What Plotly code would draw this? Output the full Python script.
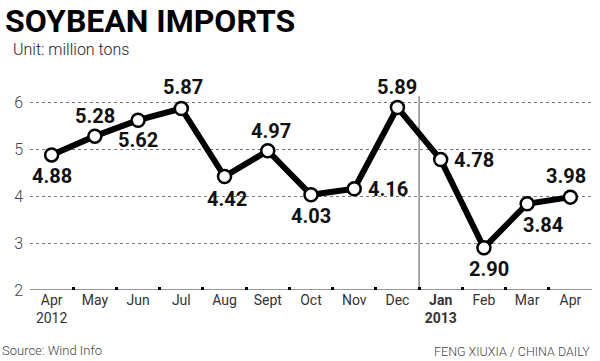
import plotly.graph_objects as go

months = ["Apr<br>2012", "May", "Jun", "Jul", "Aug", "Sept", "Oct", "Nov", "Dec",
          "<b>Jan</b><br><b>2013</b>", "Feb", "Mar", "Apr"]
imports = [4.88, 5.28, 5.62, 5.87, 4.42, 4.97, 4.03, 4.16, 5.89, 4.78, 2.90, 3.84, 3.98]
# label offsets in pixels (x, y) relative to each point: style only
label_shift = [(0, -21), (0, 20), (0, -20), (2, 21), (2, -23), (3, 20), (0, -21),
               (34, 0), (0, 21), (33, 0), (5, -21), (16, -21), (-4, 21)]
y_ticks = [2, 3, 4, 5, 6]

xs = list(range(len(months)))

# plot area in pixels
L, R, T, B = 30, 592, 93, 290
W, H = 600, 361


def px(x):
    return (x - L) / (R - L)


def py(y):
    return (B - y) / (B - T)


fig = go.Figure()
fig.add_trace(go.Scatter(
    x=xs, y=imports, mode="lines+markers",
    line=dict(color="black", width=6),
    marker=dict(size=13, color="white", line=dict(color="black", width=2.5)),
    cliponaxis=False, hoverinfo="skip",
))

for xi, v, (dx, dy) in zip(xs, imports, label_shift):
    fig.add_annotation(x=xi, y=v, xref="x", yref="y", text=f"<b>{v:.2f}</b>",
                       showarrow=False, xshift=dx, yshift=dy,
                       xanchor="center", yanchor="middle",
                       font=dict(family="Roboto", size=20, color="#111"))

fig.add_shape(type="line", x0=8.5, x1=8.5, y0=2, y1=6.13, xref="x", yref="y",
              line=dict(color="#555", width=1), layer="below")

fig.update_layout(
    width=W, height=H,
    margin=dict(l=L, r=W - R, t=T, b=H - B, autoexpand=False),
    paper_bgcolor="white", plot_bgcolor="white",
    showlegend=False,
    xaxis=dict(
        range=[-0.5, 12.5], tickvals=xs, ticktext=months, automargin=False,
        showgrid=False, zeroline=False, showline=False,
        ticks="", tickfont=dict(family="Roboto", size=14, color="#333"),
        minor=dict(tickvals=[i + 0.5 for i in range(12)], ticks="inside",
                   ticklen=3, tickwidth=3, tickcolor="black"),
        fixedrange=True,
    ),
    yaxis=dict(
        range=[2, 6.2], tickvals=y_ticks, showgrid=True, automargin=False,
        gridcolor="#777", griddash="dot", gridwidth=1,
        zeroline=False, showline=False, ticks="",
        tickfont=dict(family="Roboto", size=16, color="#444", weight=300),
        ticklabelstandoff=6,
        fixedrange=True,
    ),
)

fig.add_shape(type="line", x0=0, x1=1, y0=2, y1=2, xref="paper", yref="y",
              line=dict(color="#999", width=2), layer="below")

fig.add_annotation(text="<b>SOYBEAN IMPORTS</b>", x=px(3), y=py(21),
                   xref="paper", yref="paper", xanchor="left", yanchor="middle",
                   showarrow=False, font=dict(family="Roboto", size=32, color="#000", weight=900))
fig.add_annotation(text="Unit: million tons", x=px(11), y=py(49),
                   xref="paper", yref="paper", xanchor="left", yanchor="middle",
                   showarrow=False, font=dict(family="Roboto", size=16, color="#222", weight=300))
fig.add_annotation(text="Source: Wind Info", x=px(0), y=py(350),
                   xref="paper", yref="paper", xanchor="left", yanchor="middle",
                   showarrow=False, font=dict(family="Roboto", size=13, color="#444", weight=300))
fig.add_annotation(text="FENG XIUXIA / CHINA DAILY", x=px(592), y=py(351),
                   xref="paper", yref="paper", xanchor="right", yanchor="middle",
                   showarrow=False, font=dict(family="Roboto", size=12.5, color="#444", weight=300))

fig.write_html("out.html", config={"displayModeBar": False, "staticPlot": True},
               post_script="document.body.style.margin='0';document.body.style.overflow='hidden';")
